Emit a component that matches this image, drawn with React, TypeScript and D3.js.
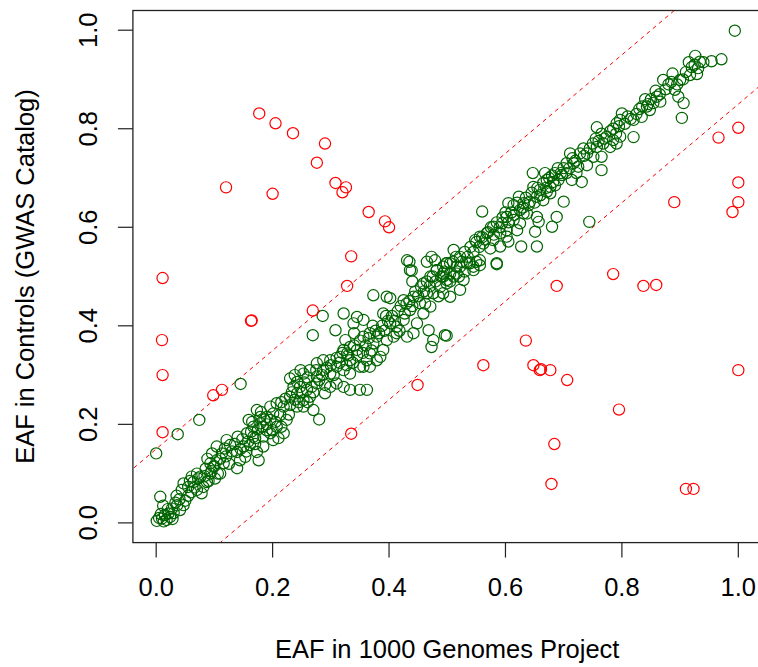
import React from "react";
import * as d3 from "d3";

// EAF in 1000 Genomes (x) vs EAF in controls (GWAS Catalog) (y)
const concordantPoints: [number, number][] = [
  [0.994, 0.999], [0.971, 0.941], [0.954, 0.937], [0.926, 0.948], [0.934, 0.936], [0.931, 0.923],
  [0.929, 0.911], [0.917, 0.909], [0.887, 0.912], [0.871, 0.899], [0.9, 0.899], [0.891, 0.879],
  [0.897, 0.865], [0.906, 0.852], [0.903, 0.822], [0.858, 0.877], [0.84, 0.86], [0.854, 0.852],
  [0.866, 0.855], [0.843, 0.845], [0.848, 0.838], [0.834, 0.824], [0.82, 0.818], [0.8, 0.831],
  [0.791, 0.811], [0.797, 0.818], [0.757, 0.803], [0.82, 0.783], [0.774, 0.784], [0.785, 0.777],
  [0.768, 0.77], [0.78, 0.763], [0.791, 0.77], [0.797, 0.784], [0.757, 0.763], [0.734, 0.76],
  [0.74, 0.75], [0.751, 0.743], [0.765, 0.743], [0.711, 0.75], [0.717, 0.73], [0.725, 0.723],
  [0.74, 0.726], [0.722, 0.71], [0.714, 0.696], [0.705, 0.71], [0.765, 0.716], [0.685, 0.71],
  [0.697, 0.706], [0.691, 0.696], [0.682, 0.692], [0.671, 0.696], [0.677, 0.682], [0.668, 0.71],
  [0.647, 0.71], [0.731, 0.692], [0.648, 0.682], [0.659, 0.676], [0.671, 0.672], [0.654, 0.662],
  [0.665, 0.655], [0.677, 0.669], [0.623, 0.662], [0.631, 0.649], [0.642, 0.652], [0.625, 0.635],
  [0.637, 0.628], [0.614, 0.645], [0.7, 0.652], [0.605, 0.649], [0.56, 0.632], [0.688, 0.621],
  [0.654, 0.621], [0.657, 0.611], [0.68, 0.601], [0.651, 0.591], [0.744, 0.611], [0.602, 0.621],
  [0.614, 0.615], [0.625, 0.608], [0.594, 0.608], [0.602, 0.594], [0.62, 0.594], [0.631, 0.628],
  [0.579, 0.601], [0.591, 0.588], [0.602, 0.581], [0.579, 0.574], [0.568, 0.588], [0.556, 0.581],
  [0.548, 0.574], [0.562, 0.567], [0.574, 0.557], [0.591, 0.561], [0.605, 0.571], [0.627, 0.561],
  [0.654, 0.561], [0.585, 0.527], [0.511, 0.554], [0.522, 0.54], [0.534, 0.527], [0.499, 0.527],
  [0.516, 0.52], [0.545, 0.52], [0.556, 0.533], [0.505, 0.506], [0.493, 0.5],
  [0.0, 0.141], [0.037, 0.18], [0.074, 0.209], [0.145, 0.282], [0.007, 0.053],
  [0.001, 0.004], [0.01, 0.009], [0.015, 0.016], [0.013, 0.003], [0.021, 0.019], [0.027, 0.029],
  [0.036, 0.036], [0.041, 0.026], [0.047, 0.036], [0.044, 0.067], [0.047, 0.08], [0.055, 0.073],
  [0.064, 0.083], [0.07, 0.067], [0.078, 0.06], [0.081, 0.073], [0.087, 0.083], [0.076, 0.094],
  [0.061, 0.094], [0.093, 0.1], [0.098, 0.114], [0.104, 0.127], [0.096, 0.141], [0.11, 0.1],
  [0.101, 0.09], [0.093, 0.121], [0.116, 0.121], [0.113, 0.141], [0.121, 0.168], [0.127, 0.158],
  [0.118, 0.151], [0.104, 0.155], [0.139, 0.111], [0.144, 0.127], [0.153, 0.134], [0.139, 0.144],
  [0.15, 0.155], [0.161, 0.158], [0.173, 0.144], [0.176, 0.127], [0.184, 0.155], [0.167, 0.175],
  [0.156, 0.182], [0.167, 0.195], [0.179, 0.202], [0.19, 0.188], [0.196, 0.182], [0.184, 0.175],
  [0.201, 0.168], [0.21, 0.172], [0.219, 0.182], [0.207, 0.195], [0.196, 0.209], [0.201, 0.222],
  [0.213, 0.219], [0.224, 0.209], [0.219, 0.236], [0.207, 0.243], [0.196, 0.236], [0.19, 0.215],
  [0.179, 0.215], [0.173, 0.229], [0.159, 0.209], [0.28, 0.21], [0.23, 0.256], [0.242, 0.263],
  [0.253, 0.249], [0.264, 0.256], [0.259, 0.27], [0.247, 0.276], [0.236, 0.276], [0.267, 0.276],
  [0.253, 0.236], [0.242, 0.236], [0.27, 0.229], [0.23, 0.239], [0.23, 0.293], [0.242, 0.286],
  [0.253, 0.303], [0.264, 0.31], [0.276, 0.297], [0.287, 0.31], [0.276, 0.283], [0.299, 0.276],
  [0.31, 0.283], [0.322, 0.276], [0.333, 0.27], [0.35, 0.27], [0.362, 0.27], [0.29, 0.263],
  [0.276, 0.324], [0.287, 0.33], [0.299, 0.33], [0.31, 0.317], [0.299, 0.303], [0.322, 0.31],
  [0.333, 0.303], [0.316, 0.337], [0.328, 0.344], [0.333, 0.33], [0.35, 0.317], [0.308, 0.391],
  [0.325, 0.371], [0.322, 0.351], [0.333, 0.357], [0.345, 0.351], [0.356, 0.378], [0.367, 0.385],
  [0.373, 0.364], [0.379, 0.378], [0.367, 0.344], [0.362, 0.33], [0.356, 0.317], [0.379, 0.33],
  [0.39, 0.351], [0.385, 0.337], [0.367, 0.317], [0.269, 0.381], [0.286, 0.42], [0.322, 0.425],
  [0.345, 0.418], [0.356, 0.412], [0.339, 0.405], [0.373, 0.462], [0.396, 0.459], [0.402, 0.456],
  [0.39, 0.425], [0.402, 0.405], [0.413, 0.398], [0.425, 0.412], [0.436, 0.432], [0.425, 0.452],
  [0.442, 0.459], [0.453, 0.446], [0.471, 0.439], [0.459, 0.425], [0.448, 0.405], [0.442, 0.385],
  [0.431, 0.378], [0.413, 0.385], [0.408, 0.378], [0.396, 0.371], [0.468, 0.391], [0.473, 0.357],
  [0.476, 0.371], [0.496, 0.381], [0.459, 0.486], [0.471, 0.5], [0.482, 0.513], [0.493, 0.52],
  [0.499, 0.493], [0.488, 0.479], [0.476, 0.466], [0.465, 0.466], [0.436, 0.513], [0.431, 0.533],
  [0.435, 0.53], [0.439, 0.512], [0.473, 0.54], [0.479, 0.533], [0.465, 0.53], [0.482, 0.513],
  [0.493, 0.506], [0.499, 0.527], [0.505, 0.527], [0.522, 0.52], [0.539, 0.527], [0.556, 0.523],
  [0.585, 0.525], [0.511, 0.5], [0.528, 0.493], [0.499, 0.486], [0.522, 0.473], [0.505, 0.459],
  [0.493, 0.466], [0.516, 0.506], [0.545, 0.513], [0.499, 0.38],
  // denser parts of the band
  [0.005, 0.01], [0.018, 0.006], [0.024, 0.012], [0.03, 0.02], [0.008, 0.018], [0.02, 0.028],
  [0.033, 0.041], [0.04, 0.048], [0.05, 0.045], [0.035, 0.055], [0.012, 0.035], [0.028, 0.008],
  [0.055, 0.055], [0.058, 0.085], [0.066, 0.072], [0.072, 0.09], [0.083, 0.095], [0.09, 0.085],
  [0.085, 0.11], [0.07, 0.1], [0.095, 0.105], [0.088, 0.13], [0.1, 0.115], [0.106, 0.1],
  [0.06, 0.062], [0.11, 0.13], [0.12, 0.135], [0.13, 0.145], [0.125, 0.12], [0.135, 0.16],
  [0.145, 0.15], [0.148, 0.17], [0.158, 0.165], [0.163, 0.185], [0.17, 0.16], [0.175, 0.19],
  [0.183, 0.195], [0.186, 0.21], [0.19, 0.2], [0.165, 0.205], [0.17, 0.172], [0.155, 0.145],
  [0.14, 0.175], [0.18, 0.225], [0.2, 0.188], [0.205, 0.205], [0.215, 0.195], [0.228, 0.22],
  [0.215, 0.245], [0.222, 0.252], [0.233, 0.265], [0.238, 0.25], [0.245, 0.245], [0.25, 0.265],
  [0.255, 0.285], [0.26, 0.295], [0.27, 0.265], [0.275, 0.31], [0.28, 0.29], [0.285, 0.3],
  [0.29, 0.28], [0.293, 0.315], [0.3, 0.32], [0.305, 0.3], [0.26, 0.245], [0.238, 0.3],
  [0.248, 0.31], [0.31, 0.335], [0.315, 0.325], [0.32, 0.345], [0.327, 0.32], [0.33, 0.34],
  [0.338, 0.325], [0.34, 0.36], [0.345, 0.34], [0.35, 0.37], [0.355, 0.345], [0.36, 0.36],
  [0.365, 0.375], [0.37, 0.35], [0.372, 0.4], [0.377, 0.39], [0.383, 0.385], [0.388, 0.4],
  [0.392, 0.39], [0.398, 0.41], [0.395, 0.42], [0.34, 0.385], [0.405, 0.42], [0.41, 0.41],
  [0.415, 0.43], [0.42, 0.44], [0.427, 0.425], [0.43, 0.445], [0.435, 0.45], [0.44, 0.44],
  [0.445, 0.47], [0.45, 0.46], [0.455, 0.48], [0.46, 0.47], [0.465, 0.49], [0.47, 0.48],
  [0.475, 0.5], [0.48, 0.49], [0.485, 0.46], [0.49, 0.5], [0.495, 0.51], [0.418, 0.39],
  [0.462, 0.445], [0.44, 0.49], [0.505, 0.49], [0.51, 0.53], [0.515, 0.54], [0.52, 0.5],
  [0.525, 0.53], [0.53, 0.55], [0.535, 0.54], [0.54, 0.56], [0.545, 0.55], [0.55, 0.57],
  [0.555, 0.56], [0.56, 0.58], [0.565, 0.575], [0.57, 0.59], [0.575, 0.6], [0.58, 0.585],
  [0.585, 0.61], [0.59, 0.6], [0.595, 0.62], [0.6, 0.63], [0.53, 0.51], [0.55, 0.53],
  [0.605, 0.61], [0.61, 0.63], [0.615, 0.625], [0.62, 0.65], [0.63, 0.64], [0.635, 0.66],
  [0.64, 0.645], [0.645, 0.67], [0.65, 0.65], [0.655, 0.68], [0.66, 0.665], [0.665, 0.69],
  [0.67, 0.68], [0.675, 0.7], [0.68, 0.705], [0.685, 0.685], [0.69, 0.72], [0.695, 0.71],
  [0.7, 0.72], [0.705, 0.73], [0.71, 0.72], [0.715, 0.74], [0.72, 0.735], [0.728, 0.75],
  [0.735, 0.745], [0.745, 0.76], [0.75, 0.77], [0.755, 0.78], [0.76, 0.775], [0.765, 0.79],
  [0.77, 0.78], [0.78, 0.795], [0.785, 0.8], [0.79, 0.79], [0.795, 0.805], [0.805, 0.81],
  [0.81, 0.825], [0.815, 0.82], [0.825, 0.83], [0.83, 0.84], [0.835, 0.845], [0.845, 0.85],
  [0.85, 0.86], [0.86, 0.865], [0.865, 0.87], [0.875, 0.88], [0.88, 0.89], [0.885, 0.895],
  [0.895, 0.89], [0.905, 0.9], [0.91, 0.915], [0.92, 0.925], [0.925, 0.93], [0.94, 0.935],
  [0.915, 0.935],
];

const discordantPoints: [number, number][] = [
  [0.177, 0.831], [0.205, 0.811], [0.235, 0.791], [0.29, 0.77], [0.276, 0.731], [0.308, 0.69],
  [0.326, 0.681], [0.32, 0.671], [0.12, 0.681], [0.2, 0.668], [0.365, 0.631], [0.393, 0.612],
  [0.4, 0.6], [0.335, 0.541], [0.011, 0.497], [0.01, 0.371], [0.011, 0.3], [0.011, 0.184],
  [0.163, 0.41], [0.164, 0.411], [0.098, 0.259], [0.113, 0.27], [0.269, 0.431], [0.328, 0.481],
  [0.449, 0.28], [0.335, 0.181], [1.0, 0.802], [0.966, 0.782], [1.0, 0.691], [1.0, 0.651],
  [0.99, 0.631], [0.89, 0.651], [0.785, 0.505], [0.688, 0.481], [0.837, 0.481], [0.859, 0.483],
  [0.635, 0.37], [0.562, 0.32], [0.648, 0.32], [0.659, 0.31], [0.661, 0.312], [0.677, 0.31],
  [0.706, 0.29], [1.0, 0.31], [0.795, 0.23], [0.684, 0.16], [0.679, 0.079], [0.91, 0.069],
  [0.923, 0.069],
];

const xTicks = [0, 0.2, 0.4, 0.6, 0.8, 1.0];
const yTicks = [0, 0.2, 0.4, 0.6, 0.8, 1.0];
const bandOffsets = [0.15, -0.15];

const xTitle = "EAF in 1000 Genomes Project";
const yTitle = "EAF in Controls (GWAS Catalog)";

export default function App() {
  const W = 758;
  const H = 667;
  const left = 132.9;
  const right = 761.6;
  const top = 10.5;
  const bottom = 542.6;

  const x = d3.scaleLinear().domain([-0.04, 1.04]).range([left, right]);
  const y = d3.scaleLinear().domain([-0.04, 1.04]).range([bottom, top]);

  const font = "'Liberation Sans', Arial, Helvetica, sans-serif";
  const fs = 25.5;

  const lineGen = d3
    .line<[number, number]>()
    .x((d) => x(d[0]))
    .y((d) => y(d[1]));

  return (
    <svg
      width={W}
      height={H}
      style={{ position: "absolute", left: 0, top: 0, background: "#fff" }}
      fontFamily={font}
    >
      <defs>
        <clipPath id="plotClip">
          <rect x={left} y={top} width={right - left} height={bottom - top} />
        </clipPath>
      </defs>
      <g clipPath="url(#plotClip)">
        {bandOffsets.map((o, i) => (
          <path
            key={i}
            d={lineGen([
              [-0.5, -0.5 + o],
              [1.5, 1.5 + o],
            ]) as string}
            fill="none"
            stroke="#ff0000"
            strokeWidth={1}
            strokeDasharray="4,4"
          />
        ))}
        {concordantPoints.map((d, i) => (
          <circle
            key={"g" + i}
            cx={x(d[0])}
            cy={y(d[1])}
            r={5.6}
            fill="none"
            stroke="#006400"
            strokeWidth={1.2}
          />
        ))}
        {discordantPoints.map((d, i) => (
          <circle
            key={"r" + i}
            cx={x(d[0])}
            cy={y(d[1])}
            r={5.6}
            fill="none"
            stroke="#ff0000"
            strokeWidth={1.2}
          />
        ))}
      </g>
      <rect
        x={left}
        y={top}
        width={right - left}
        height={bottom - top}
        fill="none"
        stroke="#222"
        strokeWidth={1.3}
      />
      {xTicks.map((t) => (
        <g key={"xt" + t}>
          <line x1={x(t)} x2={x(t)} y1={bottom} y2={bottom + 15} stroke="#222" strokeWidth={1.2} />
          <text x={x(t)} y={596} textAnchor="middle" fontSize={fs} fill="#000">
            {d3.format(".1f")(t)}
          </text>
        </g>
      ))}
      {yTicks.map((t) => (
        <g key={"yt" + t}>
          <line x1={left - 15} x2={left} y1={y(t)} y2={y(t)} stroke="#222" strokeWidth={1.2} />
          <text
            transform={`translate(${97},${y(t)}) rotate(-90)`}
            textAnchor="middle"
            fontSize={fs}
            fill="#000"
          >
            {d3.format(".1f")(t)}
          </text>
        </g>
      ))}
      <text x={x(0.5)} y={658} textAnchor="middle" fontSize={fs} fill="#000">
        {xTitle}
      </text>
      <text
        transform={`translate(${34},${y(0.5)}) rotate(-90)`}
        textAnchor="middle"
        fontSize={fs}
        fill="#000"
      >
        {yTitle}
      </text>
    </svg>
  );
}
